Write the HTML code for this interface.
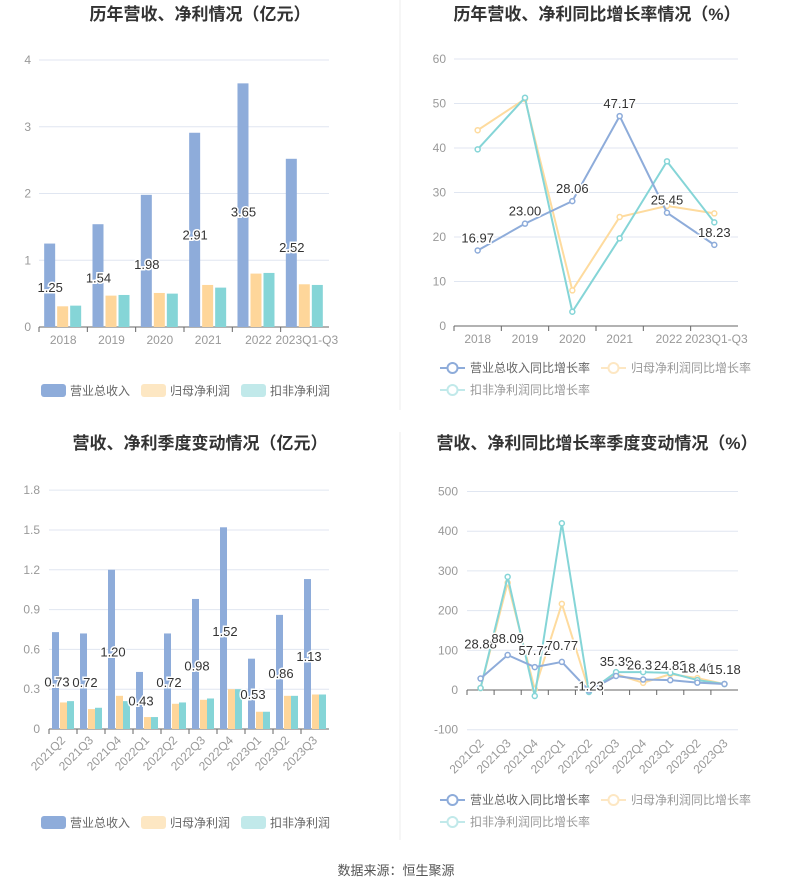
<!DOCTYPE html><html><head><meta charset="utf-8"><style>
body{margin:0;background:#fff;width:793px;height:891px;overflow:hidden}
svg{font-family:"Liberation Sans","Noto Sans CJK SC",sans-serif}
</style></head><body>
<svg id="s" width="793" height="891" xmlns="http://www.w3.org/2000/svg">
<line x1="400" y1="0" x2="400" y2="410" stroke="#eee"/>
<line x1="400" y1="432" x2="400" y2="840" stroke="#eee"/>
<text x="200" y="20" text-anchor="middle" font-size="17" font-weight="bold" fill="#333">历年营收、净利情况（亿元）</text>
<text x="597" y="20" text-anchor="middle" font-size="17" font-weight="bold" fill="#333">历年营收、净利同比增长率情况（%）</text>
<text x="200" y="449" text-anchor="middle" font-size="17" font-weight="bold" fill="#333">营收、净利季度变动情况（亿元）</text>
<text x="597" y="449" text-anchor="middle" font-size="17" font-weight="bold" fill="#333">营收、净利同比增长率季度变动情况（%）</text>
<text x="396" y="875" text-anchor="middle" font-size="13" fill="#555">数据来源：恒生聚源</text>
<g font-size="12" fill="#666">
<rect x="41" y="384" width="25" height="13" rx="3" fill="#8eacda"/><text x="70" y="395">营业总收入</text>
<rect x="141" y="384" width="25" height="13" rx="3" fill="#fde7c3"/><text x="170" y="395">归母净利润</text>
<rect x="241" y="384" width="25" height="13" rx="3" fill="#c1e9ea"/><text x="270" y="395">扣非净利润</text>
<rect x="41" y="816" width="25" height="13" rx="3" fill="#8eacda"/><text x="70" y="827">营业总收入</text>
<rect x="141" y="816" width="25" height="13" rx="3" fill="#fde7c3"/><text x="170" y="827">归母净利润</text>
<rect x="241" y="816" width="25" height="13" rx="3" fill="#c1e9ea"/><text x="270" y="827">扣非净利润</text>
</g>
</svg>
<script>
const S=document.getElementById('s'),NS='http://www.w3.org/2000/svg';
function el(t,a,txt){const e=document.createElementNS(NS,t);for(const k in a)e.setAttribute(k,a[k]);if(txt!=null)e.textContent=txt;S.appendChild(e);return e}
const B='#8eacda',O='#fed69a',T='#85d5d7';
function grid(x0,x1,y0,per,ticks,lx,fmt){ticks.forEach(v=>{const y=y0-v*per;el('line',{x1:x0,x2:x1,y1:y,y2:y,stroke:v==0?'#666':'#e0e6f1'});el('text',{x:lx,y:y+4,'text-anchor':'end','font-size':12,fill:'#999'},fmt?fmt(v):String(v))})}
function label(x,y,t){el('text',{x:x,y:y,'text-anchor':'middle','font-size':13,fill:'#333',stroke:'#fff','stroke-width':3,'paint-order':'stroke'},t)}
// chart1
grid(39,329,327,66.75,[0,1,2,3,4],31);
const c1=['2018','2019','2020','2021','2022','2023Q1-Q3'],b1=[1.25,1.54,1.98,2.91,3.65,2.52],o1=[.31,.47,.51,.63,.80,.64],t1=[.32,.48,.50,.59,.81,.63];
c1.forEach((c,i)=>{const cx=39+48.33*(i+.5);[[b1,B,-19],[o1,O,-6],[t1,T,7]].forEach(([d,col,dx])=>{el('rect',{x:cx+dx,y:327-d[i]*66.75,width:11,height:d[i]*66.75,fill:col})});
el('line',{x1:39+48.33*i,x2:39+48.33*i,y1:327,y2:332,stroke:'#666'});
el('text',{x:i==5?cx+2:(i==4?cx+2:cx),y:344,'text-anchor':'middle','font-size':12,fill:'#999'},c);
label(cx-13,327-b1[i]*66.75*0.47+4,b1[i].toFixed(2))});
// chart2
grid(454,738,326,4.45,[0,10,20,30,40,50,60],446);
const c2=c1,r2=[16.97,23.00,28.06,47.17,25.45,18.23],o2=[44,51,8,24.5,27,25.3],t2=[39.7,51.3,3.2,19.7,37,23.3];
function line(xs,ys,col){el('polyline',{points:xs.map((x,i)=>x+','+ys[i]).join(' '),fill:'none',stroke:col,'stroke-width':2});xs.forEach((x,i)=>el('circle',{cx:x,cy:ys[i],r:2.5,fill:'#fff',stroke:col,'stroke-width':1.5}))}
const x2=c2.map((c,i)=>454+47.33*(i+.5));
c2.forEach((c,i)=>{el('line',{x1:454+47.33*i,x2:454+47.33*i,y1:326,y2:331,stroke:'#666'});el('text',{x:i>=4?x2[i]+2:x2[i],y:343,'text-anchor':'middle','font-size':12,fill:'#999'},c)});
line(x2,o2.map(v=>326-v*4.45),'#fedb9e');line(x2,t2.map(v=>326-v*4.45),'#85d5d7');line(x2,r2.map(v=>326-v*4.45),'#8eacda');
r2.forEach((v,i)=>label(x2[i],326-v*4.45-8,v.toFixed(2)));
function lg(x,y,col,t,tc){el('line',{x1:x,x2:x+25,y1:y,y2:y,stroke:col,'stroke-width':2});el('circle',{cx:x+12.5,cy:y,r:5,fill:'#fff',stroke:col,'stroke-width':2});el('text',{x:x+30,y:y+4,'font-size':12,fill:tc},t)}
lg(440,368,'#8eacda','营业总收入同比增长率','#666');lg(601,368,'#fde7c3','归母净利润同比增长率','#999');lg(440,390,'#c1e9ea','扣非净利润同比增长率','#999');
lg(440,800,'#8eacda','营业总收入同比增长率','#666');lg(601,800,'#fde7c3','归母净利润同比增长率','#999');lg(440,822,'#c1e9ea','扣非净利润同比增长率','#999');
// chart3
grid(49,329,729,132.7,[0,0.3,0.6,0.9,1.2,1.5,1.8],40);
const c3=['2021Q2','2021Q3','2021Q4','2022Q1','2022Q2','2022Q3','2022Q4','2023Q1','2023Q2','2023Q3'];
const b3=[.73,.72,1.20,.43,.72,.98,1.52,.53,.86,1.13],o3=[.2,.15,.25,.09,.19,.22,.30,.13,.25,.26],t3=[.21,.16,.21,.09,.2,.23,.30,.13,.25,.26];
c3.forEach((c,i)=>{const cx=49+28*(i+.5);[[b3,B,-11],[o3,O,-3],[t3,T,4]].forEach(([d,col,dx])=>el('rect',{x:cx+dx,y:729-d[i]*132.7,width:7,height:d[i]*132.7,fill:col}));
el('line',{x1:49+28*i,x2:49+28*i,y1:729,y2:734,stroke:'#666'});
el('text',{x:cx+3,y:741,'text-anchor':'end','font-size':12,fill:'#999',transform:`rotate(-45 ${cx+3} 741)`},c);
label(cx-6,729-b3[i]*132.7*0.48+4,b3[i].toFixed(2))});
// chart4
grid(467,738,690,0.397,[-100,0,100,200,300,400,500],458);
const r4=[28.88,88.09,57.72,70.77,-1.23,35.39,26.31,24.82,18.46,15.18],o4=[5,270,2,217,-1,40,18,40,30,15],t4=[5,285,-15,420,-5,45,45,43,25,15];
const x4=r4.map((v,i)=>467+27.1*(i+.5));
c3.forEach((c,i)=>{el('line',{x1:467+27.1*i,x2:467+27.1*i,y1:690,y2:695,stroke:'#666'});el('text',{x:x4[i]+4,y:744,'text-anchor':'end','font-size':12,fill:'#999',transform:`rotate(-45 ${x4[i]+4} 744)`},c)});
line(x4,o4.map(v=>690-v*.397),'#fedb9e');line(x4,t4.map(v=>690-v*.397),'#85d5d7');line(x4,r4.map(v=>690-v*.397),'#8eacda');
r4.forEach((v,i)=>label(x4[i],690-v*.397-(i==4?-0:(i==0?30:(i>=5?10:12))),v.toFixed(2)));
</script>
</body></html>
